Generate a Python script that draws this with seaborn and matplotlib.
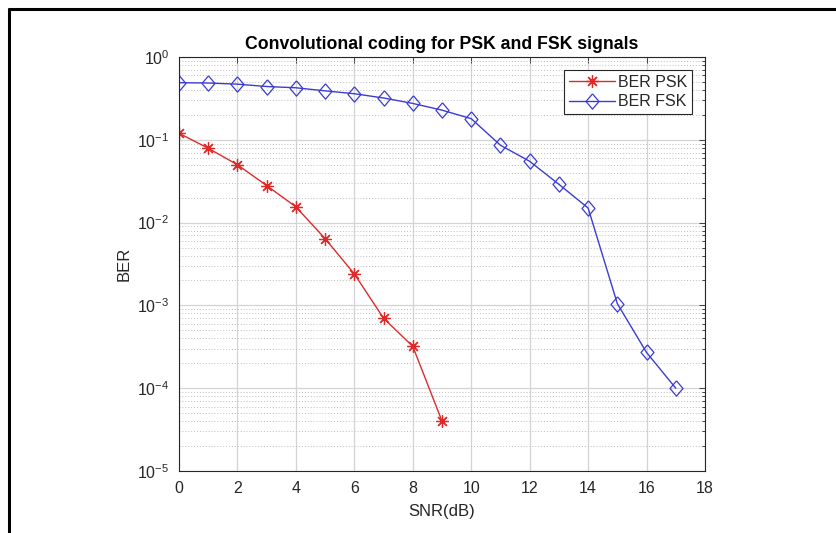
import numpy as np
import pandas as pd
import matplotlib
matplotlib.use("Agg")
import matplotlib.pyplot as plt
from matplotlib.lines import Line2D
from matplotlib.ticker import LogLocator, FixedLocator, NullFormatter
import seaborn as sns

# ================= DATA =================
snr_psk = [0, 1, 2, 3, 4, 5, 6, 7, 8, 9]
ber_psk = [0.12, 0.079, 0.05, 0.028, 0.0155, 0.0064, 0.0024, 0.0007, 0.00032, 0.00004]

snr_fsk = [0, 1, 2, 3, 4, 5, 6, 7, 8, 9, 10, 11, 12, 13, 14, 15, 16, 17]
ber_fsk = [0.49, 0.485, 0.47, 0.44, 0.425, 0.39, 0.36, 0.32, 0.275, 0.228, 0.18,
           0.086, 0.055, 0.029, 0.015, 0.00105, 0.00027, 0.0001]

x_ticks = [0, 2, 4, 6, 8, 10, 12, 14, 16, 18]
y_ticks = [1e-5, 1e-4, 1e-3, 1e-2, 1e-1, 1e0]
y_labels = ["$10^{-5}$", "$10^{-4}$", "$10^{-3}$", "$10^{-2}$", "$10^{-1}$", "$10^{0}$"]

df_psk = pd.DataFrame({"snr": snr_psk, "ber": ber_psk})
df_fsk = pd.DataFrame({"snr": snr_fsk, "ber": ber_fsk})

# ================= STYLE =================
sns.set_style("white")
plt.rcParams["font.family"] = ["Liberation Sans", "DejaVu Sans"]
plt.rcParams["mathtext.fontset"] = "custom"
plt.rcParams["mathtext.rm"] = "Liberation Sans"
plt.rcParams["mathtext.it"] = "Liberation Sans:italic"
plt.rcParams["mathtext.bf"] = "Liberation Sans:bold"

red = "#e02a2a"
blue = "#3b3bd6"
txt = "#262626"

fig = plt.figure(figsize=(8.36, 5.33), dpi=100)
ax = fig.add_axes([179 / 836, 62 / 533, 526 / 836, 414 / 533])

diamond = [(0, 1), (0.85, 0), (0, -1), (-0.85, 0), (0, 1)]

sns.lineplot(data=df_psk, x="snr", y="ber", ax=ax, color=red, lw=1.0,
             marker=(8, 2, 0), markersize=9, markeredgewidth=0.9,
             markeredgecolor=red, label="BER PSK")
sns.lineplot(data=df_fsk, x="snr", y="ber", ax=ax, color=blue, lw=1.0,
             marker=diamond, markersize=11, markeredgewidth=0.9,
             markerfacecolor="none", markeredgecolor=blue, label="BER FSK")

ax.set_yscale("log")
ax.set_xlim(0, 18)
ax.set_ylim(1e-5, 1)
ax.xaxis.set_major_locator(FixedLocator(x_ticks))
ax.set_yticks(y_ticks)
ax.set_yticklabels(y_labels)
ax.yaxis.set_minor_locator(LogLocator(base=10, subs=np.arange(2, 10), numticks=20))
ax.yaxis.set_minor_formatter(NullFormatter())

# grid like matlab
ax.grid(True, which="major", axis="both", color="#d4d4d4", lw=0.9, ls="-")
ax.grid(True, which="minor", axis="y", color="#bdbdbd", lw=0.7, ls=(0, (1, 2)))

for s in ax.spines.values():
    s.set_color(txt)
    s.set_linewidth(0.8)
ax.tick_params(which="both", direction="in", top=True, right=True,
               colors=txt, labelcolor=txt, labelsize=11.5, width=0.6)
ax.tick_params(which="major", length=4, pad=7)
ax.tick_params(which="minor", length=2.5)
ax.tick_params(axis="x", which="minor", bottom=False, top=False)

ax.set_xlabel("SNR(dB)", fontsize=12, color=txt, labelpad=6)
ax.set_ylabel("BER", fontsize=12, color=txt, labelpad=4)
ax.set_title("Convolutional coding for PSK and FSK signals", fontsize=12.7,
             fontweight="bold", color="black", pad=6)

leg = ax.legend(loc="upper right", fontsize=11.5, frameon=True, fancybox=False,
                edgecolor=txt, framealpha=1, handlelength=2.9, handletextpad=0.2,
                borderpad=0.3, labelspacing=0.3, borderaxespad=0.8)
leg.get_frame().set_linewidth(0.8)

# image frame (left and top)
fig.add_artist(Line2D([9 / 836, 1.0], [1 - 9 / 533, 1 - 9 / 533], color="black", lw=2.2,
                      transform=fig.transFigure))
fig.add_artist(Line2D([9 / 836, 9 / 836], [0, 1 - 9 / 533], color="black", lw=2.2,
                      transform=fig.transFigure))

fig.savefig("out.png", dpi=100, facecolor="white")
